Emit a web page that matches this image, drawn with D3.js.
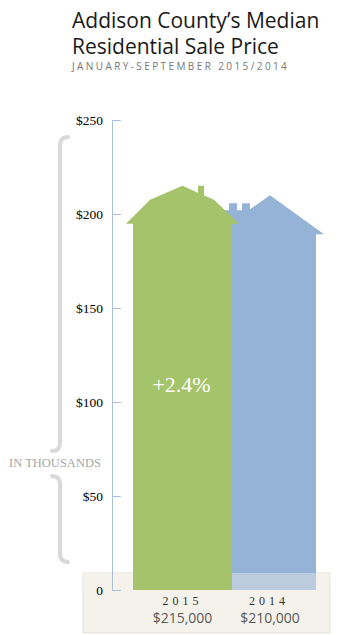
<!DOCTYPE html>
<html>
<head>
<meta charset="utf-8">
<script src="https://cdn.jsdelivr.net/npm/d3@7/dist/d3.min.js"></script>
<style>
  html, body { margin: 0; padding: 0; background: #ffffff; }
  svg { display: block; }
</style>
</head>
<body>
<svg id="chart" width="350" height="635"></svg>
<script>
// Median sale price, in thousands of dollars
const years = ["2015", "2014"];
const prices = [215, 210];
const priceLabels = ["$215,000", "$210,000"];
const changeLabel = "+2.4%";
const yTicks = [0, 50, 100, 150, 200, 250];
const yTickLabels = ["0", "$50", "$100", "$150", "$200", "$250"];
const houseColors = ["#a5c36b", "#95b3d7"];

const title = ["Addison County\u2019s Median", "Residential Sale Price"];
const subtitle = "JANUARY-SEPTEMBER 2015/2014";
const unitLabel = "IN THOUSANDS";

const svg = d3.select("#chart");

const y = d3.scaleLinear().domain([0, 250]).range([590, 120]);
const x = d3.scalePoint().domain(years).range([182.5, 266]);

// Title block
svg.selectAll("text.title").data(title).join("text")
  .attr("class", "title")
  .attr("x", 72)
  .attr("y", (d, i) => 28 + i * 26)
  .attr("font-family", "Open Sans, sans-serif")
  .attr("font-size", 21)
  .attr("fill", "#1a1a1a")
  .text(d => d);

svg.append("text")
  .attr("x", 72).attr("y", 70)
  .attr("font-family", "Open Sans, sans-serif")
  .attr("font-size", 10)
  .attr("letter-spacing", 2.4)
  .attr("fill", "#777")
  .text(subtitle);

// Curly brace to the left of the axis, with the unit label at its tip
const brace = d3.path();
brace.moveTo(68, 137);
brace.quadraticCurveTo(60, 137, 60, 146);
brace.lineTo(60, 443);
brace.quadraticCurveTo(60, 451, 52, 451);
svg.append("path").attr("d", brace.toString())
  .attr("fill", "none").attr("stroke", "#d9d9d9").attr("stroke-width", 4)
  .attr("stroke-linecap", "round");
const brace2 = d3.path();
brace2.moveTo(52, 476);
brace2.quadraticCurveTo(60, 476, 60, 484);
brace2.lineTo(60, 553);
brace2.quadraticCurveTo(60, 562, 68, 562);
svg.append("path").attr("d", brace2.toString())
  .attr("fill", "none").attr("stroke", "#d9d9d9").attr("stroke-width", 4)
  .attr("stroke-linecap", "round");

svg.append("text")
  .attr("x", 55).attr("y", 467)
  .attr("text-anchor", "middle")
  .attr("font-family", "Liberation Serif, serif")
  .attr("font-size", 12.5)
  .attr("fill", "#a6a6a6")
  .text(unitLabel);

// Footer panel behind the year labels
const panel = { x: 83, y: 573, w: 247, h: 60 };
svg.append("rect")
  .attr("x", panel.x).attr("y", panel.y).attr("width", panel.w).attr("height", panel.h)
  .attr("fill", "#f5f2eb").attr("stroke", "#e4e0d6").attr("stroke-width", 1);

// House-shaped bars: peak sits at the value
function housePath(i, v) {
  const cx = x(years[i]);
  const py = y(v);
  const y0 = y(0);
  const p = d3.path();
  if (i === 0) {
    p.moveTo(cx - 49.5, y0);
    p.lineTo(cx - 49.5, py + 38);
    p.lineTo(cx - 56.5, py + 38);
    p.lineTo(cx - 32.5, py + 14);
    p.lineTo(cx, py);
    p.lineTo(cx + 15.5, py + 7);
    p.lineTo(cx + 15.5, py);
    p.lineTo(cx + 21.5, py);
    p.lineTo(cx + 21.5, py + 9.5);
    p.lineTo(cx + 31.5, py + 14);
    p.lineTo(cx + 56.5, py + 38);
    p.lineTo(cx + 49.5, py + 38);
    p.lineTo(cx + 49.5, y0);
  } else {
    p.moveTo(cx - 50, y0);
    p.lineTo(cx - 50, py + 15);
    p.lineTo(cx - 37, py + 15);
    p.lineTo(cx - 37, py + 8);
    p.lineTo(cx - 29, py + 8);
    p.lineTo(cx - 29, py + 15);
    p.lineTo(cx - 24, py + 15);
    p.lineTo(cx - 24, py + 8);
    p.lineTo(cx - 16, py + 8);
    p.lineTo(cx - 16, py + 14);
    p.lineTo(cx + 4, py);
    p.lineTo(cx + 58, py + 39);
    p.lineTo(cx + 50, py + 39);
    p.lineTo(cx + 50, y0);
  }
  p.closePath();
  return p.toString();
}

// 2014 house first, softened where it dips into the panel, then 2015 on top
svg.append("path")
  .attr("d", housePath(1, prices[1]))
  .attr("fill", houseColors[1]);
svg.append("rect")
  .attr("x", panel.x).attr("y", panel.y).attr("width", panel.w).attr("height", y(0) - panel.y)
  .attr("fill", "#f5f2eb").attr("opacity", 0.4);
svg.append("path")
  .attr("d", housePath(0, prices[0]))
  .attr("fill", houseColors[0]);

// Axis: ticks point right, labels on the left
const axis = d3.axisLeft(y)
  .tickValues(yTicks)
  .tickFormat((d, i) => yTickLabels[i])
  .tickSize(-9)
  .tickSizeOuter(0)
  .tickPadding(9);
const g = svg.append("g").attr("transform", "translate(112,0)").call(axis);
g.select(".domain").attr("stroke", "#a9bfdc");
g.selectAll(".tick line").attr("stroke", "#a9bfdc");
g.selectAll(".tick text")
  .attr("font-family", "Liberation Serif, serif")
  .attr("font-size", 13.5)
  .attr("fill", "#000");

// Change label inside the 2015 house
svg.append("text")
  .attr("x", x(years[0]) - 1).attr("y", 392)
  .attr("text-anchor", "middle")
  .attr("font-family", "Liberation Serif, serif")
  .attr("font-size", 22)
  .attr("fill", "#ffffff")
  .text(changeLabel);

// Year and price labels in the panel
svg.selectAll("text.year").data(years).join("text")
  .attr("class", "year")
  .attr("x", d => x(d) + (d === "2014" ? 3 : 0))
  .attr("y", 605)
  .attr("text-anchor", "middle")
  .attr("font-family", "Liberation Serif, serif")
  .attr("font-size", 12)
  .attr("letter-spacing", 4)
  .attr("fill", "#333")
  .text(d => d);

svg.selectAll("text.price").data(priceLabels).join("text")
  .attr("class", "price")
  .attr("x", (d, i) => x(years[i]) + (i === 1 ? 4 : 0))
  .attr("y", 623)
  .attr("text-anchor", "middle")
  .attr("font-family", "Open Sans, sans-serif")
  .attr("font-size", 14)
  .attr("fill", "#595959")
  .text(d => d);
</script>
</body>
</html>
